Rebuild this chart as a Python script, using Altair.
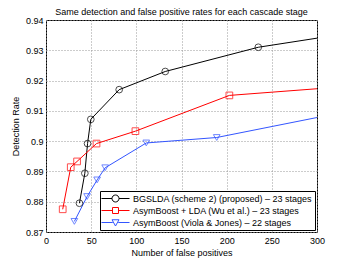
import altair as alt
import pandas as pd

series_names = [
    "BGSLDA (scheme 2) (proposed) – 23 stages",
    "AsymBoost + LDA (Wu et al.) – 23 stages",
    "AsymBoost (Viola & Jones) – 22 stages",
]
colors = ["#000000", "#ff0000", "#3355ff"]

bgs_x = [37, 43, 46, 49.6, 81, 132, 235]
bgs_y = [0.8795, 0.8894, 0.8992, 0.9072, 0.917, 0.923, 0.931]
bgs_end = [300, 0.934]

lda_x = [18.5, 27.4, 34.4, 55.9, 99, 203]
lda_y = [0.8775, 0.8914, 0.8933, 0.8992, 0.9033, 0.9151]
lda_end = [300, 0.9173]

vj_x = [31.4, 45.5, 56.6, 65.5, 111, 189]
vj_y = [0.8735, 0.8817, 0.8872, 0.8912, 0.8994, 0.9012]
vj_end = [300, 0.9078]

x_ticks = [0, 50, 100, 150, 200, 250, 300]
y_ticks = [0.87, 0.88, 0.89, 0.9, 0.91, 0.92, 0.93, 0.94]

rows_m = []
rows_l = []
for name, xs, ys, end in [
    (series_names[0], bgs_x, bgs_y, bgs_end),
    (series_names[1], lda_x, lda_y, lda_end),
    (series_names[2], vj_x, vj_y, vj_end),
]:
    for i, (a, b) in enumerate(zip(xs, ys)):
        rows_m.append({"series": name, "x": a, "y": b})
        rows_l.append({"series": name, "x": a, "y": b, "o": i})
    rows_l.append({"series": name, "x": end[0], "y": end[1], "o": len(xs)})

markers = pd.DataFrame(rows_m)
lines = pd.DataFrame(rows_l)

marker_shapes = ["circle", "square", "triangle-down"]
# legend glyphs: line segment with marker, in units where 1 = 5px (shifted right)
legend_shapes = [
    "M-1.2,0L0.9,0M2.3,0L4.4,0M2.3,0A0.7,0.7,0,1,1,0.9,0A0.7,0.7,0,1,1,2.3,0Z",
    "M-1.2,0L1,0M2.2,0L4.4,0M1,-0.6L2.2,-0.6L2.2,0.6L1,0.6Z",
    "M-1.2,0L1.05,0M2.15,0L4.4,0M0.9,-0.55L2.3,-0.55L1.6,0.7Z",
]

xenc = alt.X(
    "x:Q",
    scale=alt.Scale(domain=[0, 300], nice=False, zero=False),
    axis=alt.Axis(
        values=x_ticks, title="Number of false positives", grid=True,
        gridDash=[1, 2], gridColor="#999999", ticks=False, domain=False,
        labelFontSize=9, labelPadding=4, labelColor="#000000",
        titleFontSize=9, titleFontWeight="normal", titleColor="#000000",
        titleY=20, titleBaseline="middle", labelFlush=False,
    ),
)
yenc = alt.Y(
    "y:Q",
    scale=alt.Scale(domain=[0.87, 0.94], nice=False, zero=False),
    axis=alt.Axis(
        values=y_ticks, title="Detection Rate", grid=True,
        gridDash=[1, 2], gridColor="#999999", ticks=False, domain=False,
        labelFontSize=9, labelPadding=3, labelColor="#000000",
        titleFontSize=9, titleFontWeight="normal", titleColor="#000000",
        titleX=-31, titleBaseline="middle", labelFlush=False,
        labelExpr="datum.value == 0.9 ? '0.9' : format(datum.value, '.2f')",
    ),
)

color_scale = alt.Scale(domain=series_names, range=colors)

line_layer = alt.Chart(lines).mark_line(strokeWidth=1, clip=True).encode(
    x=xenc, y=yenc,
    order="o:Q",
    color=alt.Color("series:N", scale=color_scale, legend=None),
)

point_layer = alt.Chart(markers).mark_point(filled=False, size=45, strokeWidth=1).encode(
    x=xenc, y=yenc,
    color=alt.Color("series:N", scale=color_scale, legend=None),
    shape=alt.Shape("series:N", scale=alt.Scale(domain=series_names, range=marker_shapes), legend=None),
)

leg = dict(
    title=None, orient="bottom-right", offset=2, padding=2, strokeColor="#000000",
    fillColor="#ffffff", labelFontSize=9, labelColor="#000000",
    symbolSize=100, symbolStrokeWidth=1, labelOffset=20, rowPadding=1,
    labelLimit=300,
)

legend_layer = alt.Chart(markers).mark_point(filled=False, size=100, opacity=0, strokeWidth=1).encode(
    x=xenc, y=yenc,
    color=alt.Color("series:N", scale=color_scale, legend=alt.Legend(**leg)),
    shape=alt.Shape("series:N", scale=alt.Scale(domain=series_names, range=legend_shapes), legend=alt.Legend(**leg)),
)

chart = (
    alt.layer(line_layer, point_layer, legend_layer)
    .resolve_scale(color="independent", shape="independent")
    .properties(
        width=271, height=212,
        title=alt.Title(
            "Same detection and false positive rates for each cascade stage",
            fontSize=9, fontWeight="normal", color="#000000", offset=-1, anchor="middle",
        ),
        autosize=alt.AutoSizeParams(type="none"),
        padding={"left": 38, "top": 12, "right": 24, "bottom": 30},
    )
    .configure(font="Liberation Sans")
    .configure_view(stroke="#000000", strokeWidth=1)
)

chart.save("out.html", embed_options={"renderer": "svg", "actions": False})
